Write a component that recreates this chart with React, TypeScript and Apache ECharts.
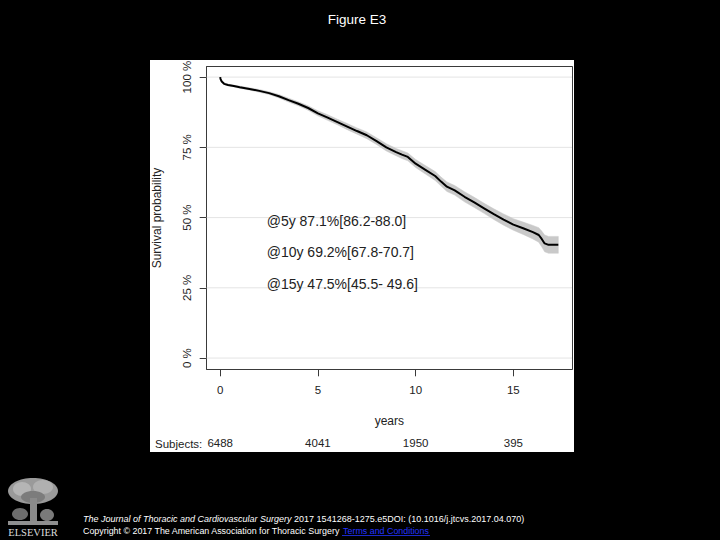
import React, { useEffect, useRef } from "react";
import * as echarts from "echarts";

// ---- data ----
const timeYears = [0, 0.02, 0.08, 0.2, 0.4, 0.7, 1.0, 1.5, 2.0, 2.5, 3.0, 3.5, 4.0, 4.5, 5.0, 5.5, 6.0, 6.5, 7.0, 7.5, 8.0, 8.5, 9.0, 9.3, 9.6, 10.0, 10.5, 11.0, 11.3, 11.6, 12.0, 12.5, 13.0, 13.5, 14.0, 14.5, 15.0, 15.5, 16.0, 16.3, 16.45, 16.6, 16.8, 17.0, 17.3];
const survival = [100, 99.3, 98.4, 97.6, 97.2, 96.8, 96.4, 95.8, 95.1, 94.3, 93.2, 91.8, 90.5, 89.0, 87.1, 85.6, 84.0, 82.4, 80.8, 79.3, 77.2, 75.0, 73.3, 72.4, 71.6, 69.2, 67.0, 64.8, 62.8, 61.0, 59.7, 57.4, 55.4, 53.3, 51.2, 49.3, 47.5, 46.2, 44.8, 43.8, 42.4, 40.8, 40.3, 40.3, 40.3];
const lowerCI = [100, 99.2, 98.2, 97.3, 96.9, 96.5, 96.0, 95.4, 94.6, 93.8, 92.6, 91.1, 89.8, 88.2, 86.2, 84.6, 83.0, 81.3, 79.7, 78.1, 76.0, 73.7, 72.0, 71.0, 70.2, 67.8, 65.5, 63.2, 61.2, 59.3, 58.0, 55.6, 53.6, 51.5, 49.3, 47.3, 45.5, 44.0, 42.4, 41.2, 39.6, 37.8, 37.3, 37.3, 37.3];
const upperCI = [100, 99.4, 98.6, 97.9, 97.5, 97.1, 96.8, 96.2, 95.6, 94.8, 93.8, 92.5, 91.2, 89.8, 88.0, 86.6, 85.0, 83.5, 81.9, 80.5, 78.4, 76.3, 74.6, 73.8, 73.0, 70.7, 68.5, 66.4, 64.4, 62.7, 61.4, 59.2, 57.2, 55.1, 53.1, 51.3, 49.6, 48.4, 47.2, 46.4, 45.2, 43.8, 43.3, 43.3, 43.3];

const xTicks = [0, 5, 10, 15];
const yTicks = [0, 25, 50, 75, 100];
const riskTimes = [0, 5, 10, 15];
const riskCounts = [6488, 4041, 1950, 395];
const annotationLabels = [
  "@5y 87.1%[86.2-88.0]",
  "@10y 69.2%[67.8-70.7]",
  "@15y 47.5%[45.5- 49.6]",
];

const X_MIN = -0.69;
const X_MAX = 18.0;
const Y_MIN = -4;
const Y_MAX = 103.7;

const FONT = "'Liberation Sans', Arial, sans-serif";
const INK = "#222";
const AXIS = "#3a3a3a";

export default function App() {
  const ref = useRef<HTMLDivElement>(null);

  useEffect(() => {
    document.body.style.margin = "0";
    if (!ref.current) return;
    const chart = echarts.init(ref.current, undefined, { renderer: "svg" });

    const lookupRisk = (v: number) => {
      const i = riskTimes.findIndex((t) => Math.abs(t - v) < 1e-6);
      return i >= 0 ? String(riskCounts[i]) : "";
    };

    const annY = [220.7, 252.3, 284];

    const option: any = {
      animation: false,
      backgroundColor: "#000",
      grid: { left: 206.7, right: 148, top: 66.7, bottom: 170.7, containLabel: false },
      xAxis: [
        {
          type: "value",
          min: X_MIN,
          max: X_MAX,
          position: "bottom",
          axisLine: { show: true, onZero: false, lineStyle: { color: AXIS, width: 1 } },
          axisTick: { show: true, length: 7, customValues: xTicks, lineStyle: { color: AXIS } },
          axisLabel: { customValues: xTicks, margin: 15, fontSize: 11.5, color: INK, fontFamily: FONT },
          splitLine: { show: false },
          name: "years",
          nameLocation: "middle",
          nameGap: 46,
          nameTextStyle: { fontSize: 12, color: INK, fontFamily: FONT },
        },
        {
          type: "value",
          min: X_MIN,
          max: X_MAX,
          position: "bottom",
          axisLine: { show: false },
          axisTick: { show: false },
          axisLabel: {
            customValues: riskTimes,
            formatter: (v: number) => lookupRisk(v),
            margin: 68,
            fontSize: 11.5,
            color: INK,
            fontFamily: FONT,
          },
          splitLine: { show: false },
        },
        {
          type: "value",
          min: X_MIN,
          max: X_MAX,
          position: "top",
          axisLine: { show: true, onZero: false, lineStyle: { color: AXIS, width: 1 } },
          axisTick: { show: false },
          axisLabel: { show: false },
          splitLine: { show: false },
        },
      ],
      yAxis: [
        {
          type: "value",
          min: Y_MIN,
          max: Y_MAX,
          position: "left",
          axisLine: { show: true, onZero: false, lineStyle: { color: AXIS, width: 1 } },
          axisTick: { show: true, length: 7, customValues: yTicks, lineStyle: { color: AXIS } },
          axisLabel: {
            customValues: yTicks,
            rotate: 90,
            margin: 14,
            fontSize: 11.5,
            color: INK,
            fontFamily: FONT,
            formatter: (v: number) => `${v} %`,
          },
          splitLine: { show: false },
          name: "Survival probability",
          nameLocation: "middle",
          nameGap: 44,
          nameRotate: 90,
          nameTextStyle: { fontSize: 12, color: INK, fontFamily: FONT },
        },
        {
          type: "value",
          min: Y_MIN,
          max: Y_MAX,
          position: "right",
          axisLine: { show: true, onZero: false, lineStyle: { color: AXIS, width: 1 } },
          axisTick: { show: false },
          axisLabel: { show: false },
          splitLine: { show: false },
        },
      ],
      series: [
        {
          type: "custom",
          name: "grid",
          silent: true,
          xAxisIndex: 0,
          yAxisIndex: 0,
          data: yTicks.map((v) => [v]),
          encode: { y: 0 },
          z: 1,
          renderItem: (_p: any, api: any) => {
            const v = api.value(0);
            const a = api.coord([X_MIN, v]);
            const b = api.coord([X_MAX, v]);
            return {
              type: "line",
              shape: { x1: a[0], y1: a[1], x2: b[0], y2: b[1] },
              style: { stroke: "#e4e4e4", lineWidth: 1 },
            };
          },
        },
        {
          type: "custom",
          name: "95% CI",
          silent: true,
          xAxisIndex: 0,
          yAxisIndex: 0,
          data: timeYears.map((t, i) => [t, lowerCI[i], upperCI[i]]),
          encode: { x: 0, y: [1, 2] },
          z: 2,
          renderItem: (params: any, api: any) => {
            if (params.dataIndex !== 0) return null;
            const pts: number[][] = [];
            for (let i = 0; i < timeYears.length; i++) pts.push(api.coord([timeYears[i], upperCI[i]]));
            for (let i = timeYears.length - 1; i >= 0; i--) pts.push(api.coord([timeYears[i], lowerCI[i]]));
            return {
              type: "polygon",
              shape: { points: pts },
              style: { fill: "#c9c9c9", stroke: "#c9c9c9", lineWidth: 0.5 },
            };
          },
        },
        {
          type: "line",
          name: "Survival",
          xAxisIndex: 0,
          yAxisIndex: 0,
          data: timeYears.map((t, i) => [t, survival[i]]),
          symbol: "none",
          lineStyle: { color: "#000", width: 2 },
          z: 3,
        },
      ],
      graphic: [
        {
          type: "rect",
          z: -10,
          silent: true,
          shape: { x: 150, y: 60, width: 424, height: 392 },
          style: { fill: "#fff" },
        },
        {
          type: "text",
          z: 100,
          x: 357,
          y: 19.5,
          style: {
            text: "Figure E3",
            fill: "#fff",
            fontSize: 13.5,
            fontFamily: FONT,
            align: "center",
            verticalAlign: "middle",
          },
        },
        ...annotationLabels.map((t, i) => ({
          type: "text",
          z: 100,
          x: 266.7,
          y: annY[i],
          style: { text: t, fill: INK, fontSize: 14, fontFamily: FONT, align: "left", verticalAlign: "middle" },
        })),
        {
          type: "text",
          z: 100,
          x: 155,
          y: 444,
          style: { text: "Subjects:", fill: INK, fontSize: 11.5, fontFamily: FONT, align: "left", verticalAlign: "middle" },
        },
        // footer
        {
          type: "text",
          z: 100,
          x: 83,
          y: 519.3,
          style: {
            text: "{i|The Journal of Thoracic and Cardiovascular Surgery} {n|2017 1541268-1275.e5DOI: (10.1016/j.jtcvs.2017.04.070)}",
            fill: "#fff",
            fontSize: 9,
            fontFamily: FONT,
            verticalAlign: "middle",
            rich: {
              i: { fill: "#fff", fontStyle: "italic", fontSize: 9, fontFamily: FONT },
              n: { fill: "#fff", fontSize: 9, fontFamily: FONT },
            },
          },
        },
        {
          type: "text",
          z: 100,
          x: 83,
          y: 531,
          style: {
            text: "{n|Copyright © 2017 The American Association for Thoracic Surgery }{l|Terms and Conditions}",
            fill: "#fff",
            fontSize: 8.9,
            fontFamily: FONT,
            verticalAlign: "middle",
            rich: {
              n: { fill: "#fff", fontSize: 8.9, fontFamily: FONT },
              l: { fill: "#2233ff", fontSize: 8.9, fontFamily: FONT },
            },
          },
        },
        {
          type: "line",
          z: 100,
          shape: { x1: 342, y1: 535.5, x2: 430, y2: 535.5 },
          style: { stroke: "#2233ff", lineWidth: 0.8 },
        },
        // Elsevier logo (approximation)
        {
          type: "group",
          z: 100,
          children: [
            { type: "ellipse", shape: { cx: 33, cy: 491, rx: 25, ry: 13 }, style: { fill: "#9a9a9a" } },
            { type: "ellipse", shape: { cx: 22, cy: 489, rx: 9, ry: 7 }, style: { fill: "#b5b5b5" } },
            { type: "ellipse", shape: { cx: 43, cy: 487, rx: 10, ry: 7 }, style: { fill: "#b0b0b0" } },
            { type: "ellipse", shape: { cx: 33, cy: 497, rx: 12, ry: 6 }, style: { fill: "#7c7c7c" } },
            { type: "rect", shape: { x: 30, y: 498, width: 7, height: 24 }, style: { fill: "#8a8a8a" } },
            { type: "ellipse", shape: { cx: 20, cy: 514, rx: 8, ry: 6 }, style: { fill: "#6d6d6d" } },
            { type: "ellipse", shape: { cx: 47, cy: 515, rx: 7, ry: 6 }, style: { fill: "#7a7a7a" } },
            { type: "rect", shape: { x: 8, y: 521, width: 50, height: 4 }, style: { fill: "#8f8f8f" } },
            {
              type: "text",
              x: 33,
              y: 532.5,
              style: {
                text: "ELSEVIER",
                fill: "#ddd",
                fontSize: 10.5,
                fontFamily: "'Liberation Serif', 'DejaVu Serif', serif",
                align: "center",
                verticalAlign: "middle",
              },
            },
          ],
        },
      ],
    };

    chart.setOption(option);
    return () => chart.dispose();
  }, []);

  return <div ref={ref} style={{ width: 720, height: 540, background: "#000" }} />;
}
